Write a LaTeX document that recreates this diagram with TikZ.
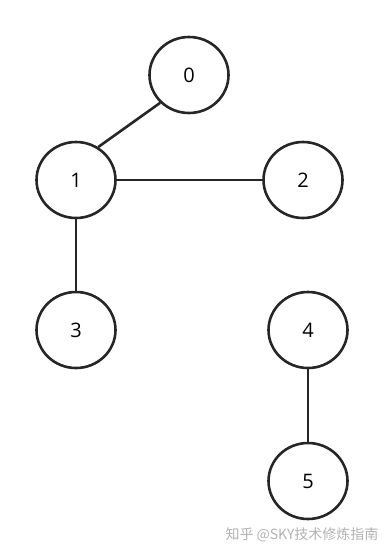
\documentclass[tikz,border=0pt]{standalone}
\usepackage{fontspec}
\setmainfont{Open Sans}
\newfontfamily\cjk{Noto Sans CJK SC}
\usetikzlibrary{shapes.geometric}
\tikzset{
  vertex/.style={ellipse,draw=black!85,line width=2.6pt,fill=white,
    minimum width=79pt,minimum height=76pt,inner sep=0pt,font=\fontsize{20}{24}\selectfont},
  edge/.style={draw=black!85,line width=2.6pt}
}
\begin{document}
\begin{tikzpicture}[x=1pt,y=-1pt]
  \useasboundingbox (0,0) rectangle (385,555);
  % vertices
  \node[vertex] (v0) at (189,75) {0};
  \node[vertex] (v1) at (76,180) {1};
  \node[vertex] (v2) at (303,180) {2};
  \node[vertex] (v3) at (76,330) {3};
  \node[vertex] (v4) at (308,330) {4};
  \node[vertex] (v5) at (308,481) {5};
  % edges
  \path[edge] (v0.224) -- (v1.56);
  \path[edge] (v1) -- (v2);
  \path[edge] (v1) -- (v3);
  \path[edge] (v4) -- (v5);
  \node[text=black!30,font=\cjk\fontsize{14}{16}\selectfont] (mark) at (302,535) {知乎 @SKY技术修炼指南};
\end{tikzpicture}
\end{document}
